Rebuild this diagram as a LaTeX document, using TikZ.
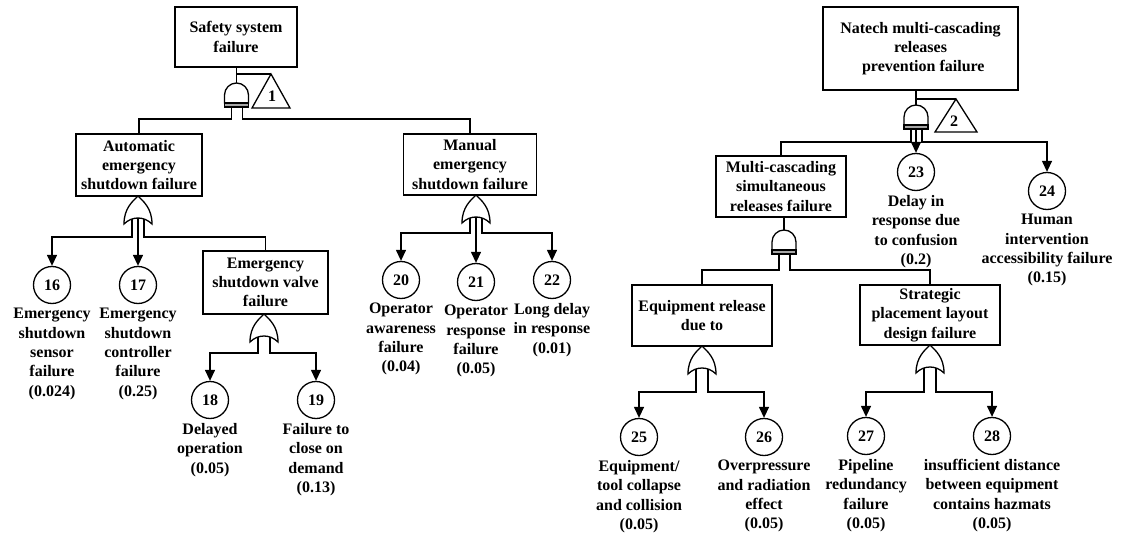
\documentclass[tikz,border=0pt]{standalone}
\usepackage{fontspec}
\setmainfont{Liberation Serif}
\usetikzlibrary{arrows.meta,calc}

\newcommand{\lblfont}{\fontsize{16}{19.3}\selectfont\bfseries}

\tikzset{
  ln/.style={line width=1.3pt},
  arr/.style={line width=1.3pt, -{Triangle[length=11pt,width=10pt]}},
  evbox/.style={draw, line width=1.3pt, align=center, inner sep=0pt, font=\lblfont},
  basic/.style={draw, circle, line width=1.3pt, minimum size=37pt, inner sep=0pt, font=\lblfont},
  desc/.style={anchor=north, align=center, inner sep=0pt, font=\lblfont, yshift=-4pt},
  % OR gate: apex at the origin, y grows downwards
  orgate/.pic={
    \draw[line width=1.3pt, fill=white] (0,0) .. controls (5,5) and (14,12) .. (14,28)
      .. controls (6,20) and (-6,20) .. (-14,28)
      .. controls (-14,12) and (-5,5) .. (0,0) -- cycle;
    \coordinate (-top) at (0,0);
    \coordinate (-l) at (-6,23);
    \coordinate (-m) at (0,22);
    \coordinate (-r) at (6,23);
  },
  % AND gate: top of the dome at the origin, with the base bar underneath
  andgate/.pic={
    \draw[line width=1.3pt, fill=white] (-12,20) -- (-12,12)
      .. controls (-12,5.4) and (-6.6,0) .. (0,0)
      .. controls (6.6,0) and (12,5.4) .. (12,12) -- (12,20) -- cycle;
    \draw[line width=1.3pt, fill=gray!70] (-12,20) rectangle (12,24);
    \coordinate (-top) at (0,0);
    \coordinate (-l) at (-5,24);
    \coordinate (-m) at (0,24);
    \coordinate (-r) at (6,24);
  },
}

\begin{document}
\begin{tikzpicture}[x=1pt,y=-1pt]
\useasboundingbox[fill=white] (0,0) rectangle (1126,540);

% ---------------- Safety system tree ----------------
\node[evbox, minimum width=122pt, minimum height=60pt] (top1) at (236,37) {Safety system\\failure};
\pic (g1) at (236.5,83) {andgate};
\draw[ln] (g1-top) -- (g1-top |- top1.south);
\coordinate (t1apex) at (271,74);
\draw[ln] (t1apex) -- ++(-19,34) -- ++(38,0) -- cycle;
\node[font=\lblfont, inner sep=0pt] (t1) at (272,96) {1};
\draw[ln] (t1apex -| g1-top) -- (t1apex);

\node[evbox, minimum width=126pt, minimum height=62pt] (auto) at (139,165) {Automatic\\emergency\\shutdown failure};
\node[evbox, minimum width=133pt, minimum height=61pt] (manual) at (470,164.5) {Manual\\emergency\\shutdown failure};
\coordinate (bus1) at (0,119);
\draw[ln] (g1-l) -- (g1-l |- bus1) -| (auto.north);
\draw[ln] (g1-r) -- (g1-r |- bus1) -| (manual.north);

% automatic shutdown branch
\pic (gA) at (138,196) {orgate};
\node[basic] (c16) at (52,285) {16};
\node[basic] (c17) at (138,285) {17};
\node[evbox, minimum width=125pt, minimum height=63pt] (valve) at (265.5,282.5) {Emergency\\shutdown valve\\failure};
\coordinate (busA) at (0,237);
\draw[arr] (gA-l) -- (gA-l |- busA) -| (c16.north);
\draw[arr] (gA-m) -- (c17.north);
\draw[ln] (gA-r) -- (gA-r |- busA) -| (valve.north);
\node[desc] (d16) at (c16.south) {Emergency\\shutdown\\sensor\\failure\\(0.024)};
\node[desc] (d17) at (c17.south) {Emergency\\shutdown\\controller\\failure\\(0.25)};

\pic (gV) at (264,314) {orgate};
\node[basic] (c18) at (210,400) {18};
\node[basic] (c19) at (316,400) {19};
\coordinate (busV) at (0,353);
\draw[arr] (gV-l) -- (gV-l |- busV) -| (c18.north);
\draw[arr] (gV-r) -- (gV-r |- busV) -| (c19.north);
\node[desc] (d18) at (c18.south) {Delayed\\operation\\(0.05)};
\node[desc] (d19) at (c19.south) {Failure to\\close on\\demand\\(0.13)};

% manual shutdown branch
\pic (gM) at (476,195) {orgate};
\node[basic] (c20) at (401,280) {20};
\node[basic] (c21) at (476,282) {21};
\node[basic] (c22) at (552,280) {22};
\coordinate (busM) at (0,233);
\draw[arr] (gM-l) -- (gM-l |- busM) -| (c20.north);
\draw[arr] (gM-m) -- (c21.north);
\draw[arr] (gM-r) -- (gM-r |- busM) -| (c22.north);
\node[desc] (d20) at (c20.south) {Operator\\awareness\\failure\\(0.04)};
\node[desc] (d21) at (c21.south) {Operator\\response\\failure\\(0.05)};
\node[desc] (d22) at (c22.south) {Long delay\\in response\\(0.01)};

% ---------------- Natech tree ----------------
\node[evbox, minimum width=195pt, minimum height=83pt] (natech) at (920.5,48.5) {Natech multi-cascading\\releases\\\hspace{0.35em}prevention failure};
\pic (gN) at (916,105) {andgate};
\draw[ln] (gN-top) -- (gN-top |- natech.south);
\coordinate (t2apex) at (956,99);
\draw[ln] (t2apex) -- ++(-21,33) -- ++(42,0) -- cycle;
\node[font=\lblfont, inner sep=0pt] (t2) at (954,121) {2};
\draw[ln] (t2apex -| gN-top) -- (t2apex);

\node[evbox, minimum width=130pt, minimum height=61pt] (multi) at (781,186.5) {Multi-cascading\\simultaneous\\releases failure};
\node[basic] (c23) at (916,172) {23};
\node[basic] (c24) at (1047,191) {24};
\coordinate (busN) at (0,142);
\draw[ln] (gN-l) -- (gN-l |- busN) -| (multi.north);
\draw[arr] (gN-m) -- (c23.north);
\draw[arr] (gN-r) -- (gN-r |- busN) -| (c24.north);
\node[desc] (d23) at (c23.south) {Delay in\\response due\\to confusion\\(0.2)};
\node[desc] (d24) at (c24.south) {Human\\intervention\\accessibility failure\\(0.15)};

\pic (gMu) at (784,230) {andgate};
\draw[ln] (gMu-top) -- (gMu-top |- multi.south);
\node[evbox, minimum width=140pt, minimum height=61pt] (equip) at (702,315.5) {Equipment release\\due to};
\node[evbox, minimum width=140pt, minimum height=60pt] (strat) at (930,315) {Strategic\\placement layout\\design failure};
\coordinate (busMu) at (0,270);
\draw[ln] (gMu-l) -- (gMu-l |- busMu) -| (equip.north);
\draw[ln] (gMu-r) -- (gMu-r |- busMu) -| (strat.north);

\pic (gE) at (702,346) {orgate};
\node[basic] (c25) at (639,437) {25};
\node[basic] (c26) at (764,437) {26};
\coordinate (busE) at (0,392);
\draw[arr] (gE-l) -- (gE-l |- busE) -| (c25.north);
\draw[arr] (gE-r) -- (gE-r |- busE) -| (c26.north);
\node[desc] (d25) at (c25.south) {Equipment/\\tool collapse\\and collision\\(0.05)};
\node[desc] (d26) at (c26.south) {Overpressure\\and radiation\\effect\\(0.05)};

\pic (gS) at (930,345) {orgate};
\node[basic] (c27) at (866,436) {27};
\node[basic] (c28) at (992,436) {28};
\draw[arr] (gS-l) -- (gS-l |- busE) -| (c27.north);
\draw[arr] (gS-r) -- (gS-r |- busE) -| (c28.north);
\node[desc] (d27) at (c27.south) {Pipeline\\redundancy\\failure\\(0.05)};
\node[desc] (d28) at (c28.south) {insufficient distance\\between equipment\\contains hazmats\\(0.05)};
\end{tikzpicture}
\end{document}
